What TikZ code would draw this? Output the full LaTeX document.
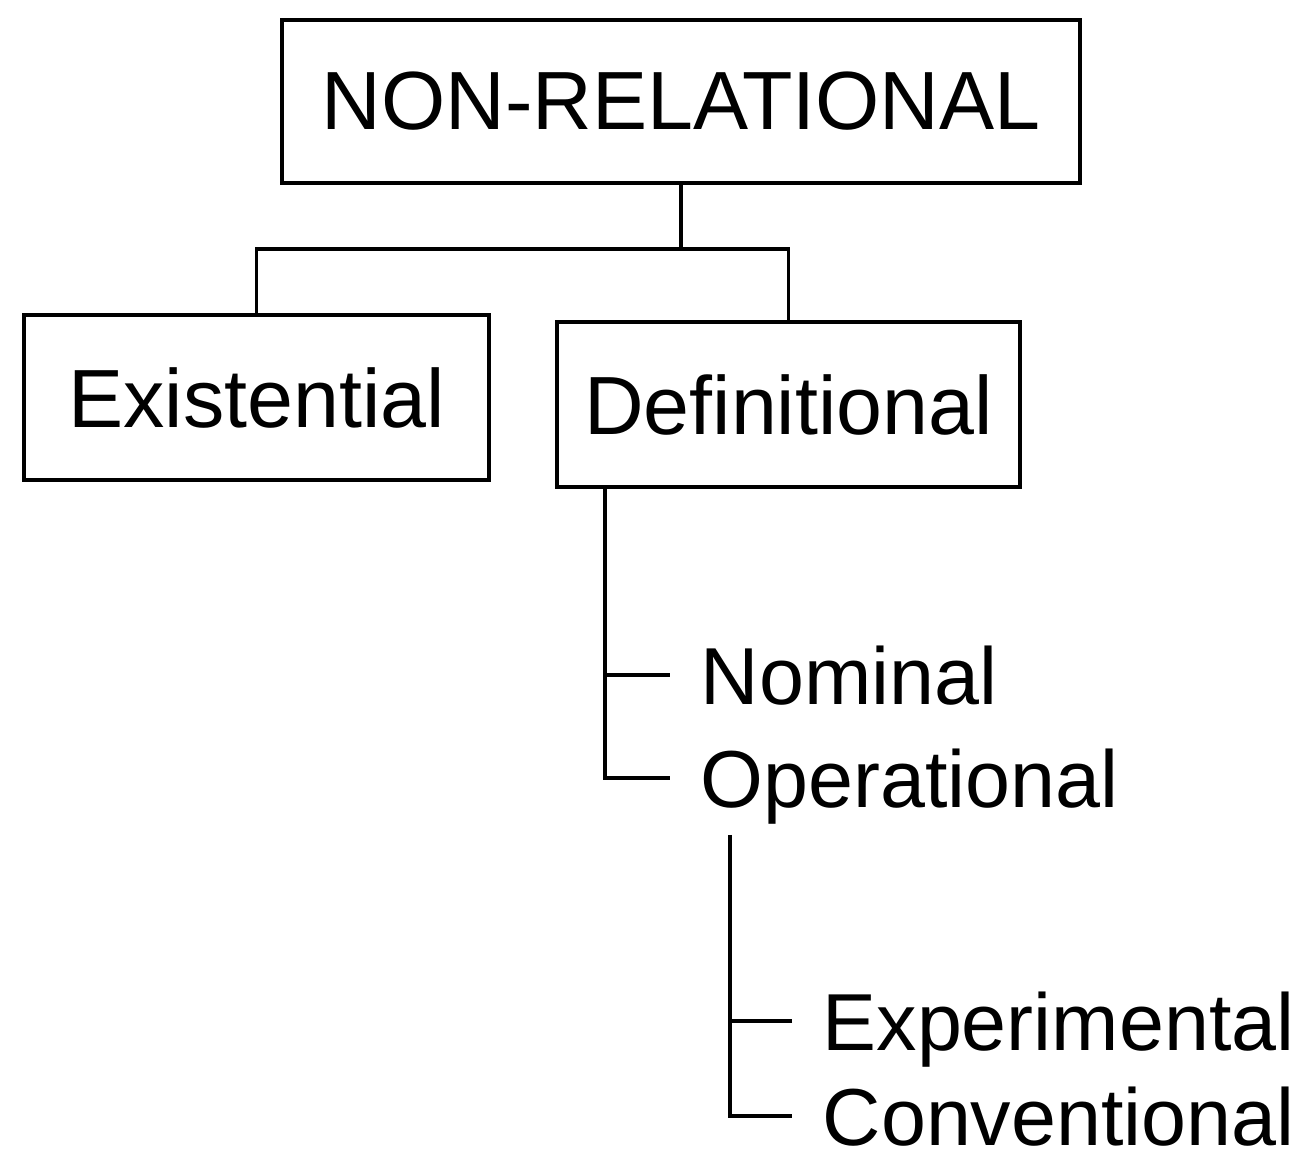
\documentclass[tikz,border=0pt]{standalone}
\usepackage{fontspec}
\setmainfont{Liberation Sans}
\usetikzlibrary{calc}
\newcommand{\leafgap}{0.3}
\newcommand{\labelfont}{\fontsize{23.5}{28}\selectfont}
\newcommand{\leaffont}{\fontsize{23}{28}\selectfont}

\tikzset{
  catbox/.style={draw, line width=1pt, inner sep=0pt, font=\labelfont},
  leaf/.style={inner sep=0pt, anchor=base west, text height=0.6cm, text depth=0pt, font=\leaffont},
  branch/.style={line width=1.1pt}
}

\begin{document}
\begin{tikzpicture}
\useasboundingbox (0,0) rectangle (13.12,-11.61);

%% Place the top box and name it root
\node[catbox, minimum width=7.98cm, minimum height=1.63cm] (root) at (6.81,-1.015) {NON-RELATIONAL};
%% Place the two boxes of the second row
\node[catbox, minimum width=4.65cm, minimum height=1.65cm] (exist) at (2.565,-3.975) {Existential};
\node[catbox, minimum width=4.63cm, minimum height=1.65cm] (def) at (7.885,-4.045) {Definitional};

%% Place the kinds of definition
\node[leaf] (nom) at (7.0,-7.05) {Nominal};
\node[leaf] (opr) at (7.0,-8.08) {Operational};
%% Place the kinds of operational definition
\node[leaf] (expm) at (8.22,-10.51) {Experimental};
\node[leaf] (conv) at (8.22,-11.46) {Conventional};

%% Split point under the root box
\coordinate (split) at ($ (root.south) + (0,-0.64) $);
\draw[branch] (root.south) -- (split);
\draw[branch] (exist.north) |- (split) -| (def.north);

%% Stem from Definitional down to its two kinds
\coordinate (defstem) at ($ (def.south west) + (0.5,0) $);
\draw[branch] (defstem) |- ($ (opr.west) - (\leafgap,0) $);
\draw[branch] ($ (nom.west) - (\leafgap,0) $) -- (nom.west -| defstem);

%% Stem under Operational (not touching the text)
\coordinate (oprstem) at ($ (opr.base west) + (0.3,-0.27) $);
\draw[branch] (oprstem) |- ($ (conv.west) - (\leafgap,0) $);
\draw[branch] ($ (expm.west) - (\leafgap,0) $) -- (expm.west -| oprstem);

\end{tikzpicture}
\end{document}
